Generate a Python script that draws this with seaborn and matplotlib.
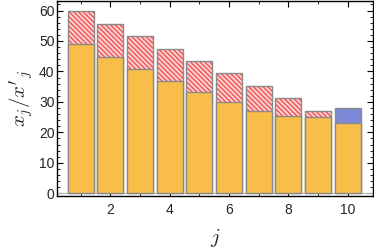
import matplotlib
matplotlib.use("Agg")
import matplotlib.pyplot as plt
import seaborn as sns
import numpy as np
import pandas as pd
from matplotlib.ticker import MultipleLocator

j = [1, 2, 3, 4, 5, 6, 7, 8, 9, 10]
base = [48.9, 44.8, 40.8, 36.9, 33.4, 30.1, 27.1, 25.4, 25.0, 23.1]
total = [59.8, 55.6, 51.6, 47.4, 43.4, 39.4, 35.3, 31.2, 27.1, 27.9]
xticks = [2, 4, 6, 8, 10]
yticks = [0, 10, 20, 30, 40, 50, 60]

sns.set_theme(style="ticks")
plt.rcParams['font.family'] = ['Liberation Sans', 'DejaVu Sans']
plt.rcParams['hatch.linewidth'] = 1.1
plt.rcParams['mathtext.fontset'] = 'cm'

fig = plt.figure(figsize=(3.74, 2.52), dpi=100)
ax = fig.add_axes([0.153, 0.222, 0.844, 0.775])

df = pd.DataFrame({"j": j, "base": base, "total": total})
hat = df[df.j < 10]
blu = df[df.j == 10]

W = 0.88
ORANGE = "#F9BD4A"
GRAY = "#8a8a8a"

# hatched excess (bars 1-9)
sns.barplot(data=hat, x="j", y="total", native_scale=True, width=W, ax=ax,
            color="#FFD6D6", edgecolor="#F05A5A", linewidth=0, hatch="\\\\\\\\\\\\\\",
            saturation=1, zorder=2)
sns.barplot(data=hat, x="j", y="total", native_scale=True, width=W, ax=ax,
            fill=False, edgecolor=GRAY, linewidth=1.0, zorder=3)
# blue excess (bar 10)
sns.barplot(data=blu, x="j", y="total", native_scale=True, width=W, ax=ax,
            color="#7E8AD8", edgecolor=GRAY, linewidth=1.0, saturation=1, zorder=2)
# orange base
sns.barplot(data=df, x="j", y="base", native_scale=True, width=W, ax=ax,
            color=ORANGE, edgecolor=GRAY, linewidth=1.0, saturation=1, zorder=4)

ax.axhline(0, color="#b0b0b0", lw=0.8, zorder=1)

ax.set_xlim(0.21, 10.85)
ax.set_ylim(-0.9, 63.2)
ax.set_xticks(xticks)
ax.set_yticks(yticks)
ax.xaxis.set_minor_locator(MultipleLocator(1))
ax.yaxis.set_minor_locator(MultipleLocator(2))
ax.tick_params(which="both", direction="in", top=True, right=True,
               labelsize=10, color="black")
ax.tick_params(axis="x", which="major", pad=5)
ax.tick_params(axis="y", which="major", pad=2)
ax.tick_params(which="major", length=4, width=0.8)
ax.tick_params(which="minor", length=2, width=0.6)
ax.tick_params(axis="x", which="both", labeltop=False)
ax.tick_params(axis="y", which="both", labelright=False)
for s in ax.spines.values():
    s.set_color("black")
    s.set_linewidth(1.0)

ax.set_xlabel("$j$", fontsize=15, labelpad=7)
ax.set_ylabel("$x_j/x'_j$", fontsize=15, labelpad=2)

fig.savefig("out.png", dpi=100)
